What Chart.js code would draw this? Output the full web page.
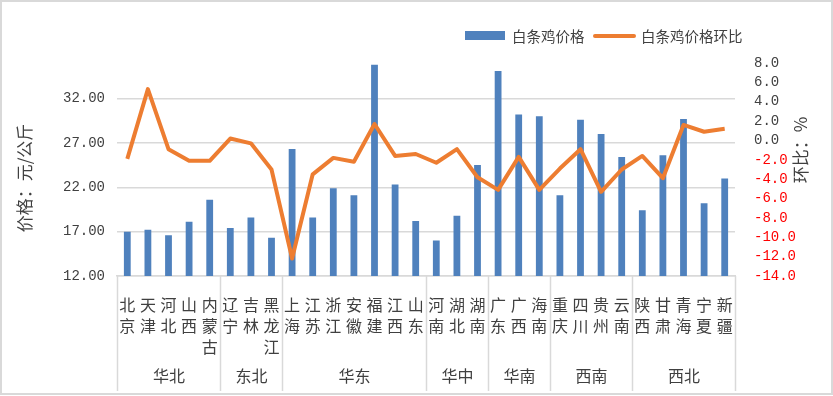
<!DOCTYPE html>
<html>
<head>
<meta charset="utf-8">
<script src="https://cdn.jsdelivr.net/npm/chart.js@4.4.1/dist/chart.umd.min.js"></script>
<style>
  html, body { margin: 0; padding: 0; background: #fff; }
  canvas { display: block; }
</style>
</head>
<body>
<canvas id="chart" width="833" height="396"></canvas>
<script>
// province labels, one character per line (stacked vertically)
const provinces = [
  ['北','京'], ['天','津'], ['河','北'], ['山','西'], ['内','蒙','古'],
  ['辽','宁'], ['吉','林'], ['黑','龙','江'],
  ['上','海'], ['江','苏'], ['浙','江'], ['安','徽'], ['福','建'], ['江','西'], ['山','东'],
  ['河','南'], ['湖','北'], ['湖','南'],
  ['广','东'], ['广','西'], ['海','南'],
  ['重','庆'], ['四','川'], ['贵','州'], ['云','南'],
  ['陕','西'], ['甘','肃'], ['青','海'], ['宁','夏'], ['新','疆']
];
const regions = ['华北', '东北', '华东', '华中', '华南', '西南', '西北'];
const regionSizes = [5, 3, 7, 3, 3, 4, 5];

// 白条鸡价格 (元/公斤)
const prices = [
  17.0, 17.2, 16.6, 18.1, 20.6,
  17.4, 18.6, 16.3,
  26.3, 18.6, 21.9, 21.1, 35.8, 22.3, 18.2,
  16.0, 18.8, 24.5,
  35.1, 30.2, 30.0,
  21.1, 29.6, 28.0, 25.4,
  19.4, 25.6, 29.7, 20.2, 23.0
];
// 白条鸡价格环比 (%)
const changes = [
  -1.9, 5.3, -0.9, -2.1, -2.1,
  0.2, -0.3, -3.0,
  -12.2, -3.5, -1.8, -2.2, 1.7, -1.6, -1.4,
  -2.3, -0.9, -3.8,
  -5.1, -1.7, -5.1,
  -2.9, -0.9, -5.3, -3.0,
  -1.6, -3.9, 1.6, 0.9, 1.2
];
const priceTicks = [12, 17, 22, 27, 32];

const BLUE = '#4F81BD';
const ORANGE = '#ED7D31';
const TEXT = '#404040';
const GRID = '#D9D9D9';
const CJK = '"Noto Sans CJK SC", sans-serif';
const NUM = '"Liberation Mono", monospace';

// legend, group row, axis titles and frame
const decor = {
  id: 'decor',
  afterDraw(chart) {
    const { ctx, chartArea: a, scales: { x } } = chart;
    ctx.save();

    // frame
    ctx.strokeStyle = GRID;
    ctx.lineWidth = 2;
    ctx.strokeRect(1, 1, 831, 393);

    // region separators + names
    ctx.lineWidth = 1.5;
    ctx.font = '16px ' + CJK;
    ctx.fillStyle = TEXT;
    ctx.textAlign = 'center';
    ctx.textBaseline = 'middle';
    let start = 0;
    const edge = i => Math.round(x.getPixelForValue(i - 0.5)) + 0.5;
    ctx.beginPath();
    ctx.moveTo(edge(0), a.bottom);
    ctx.lineTo(edge(0), 391);
    regionSizes.forEach((n, k) => {
      const end = start + n;
      ctx.moveTo(edge(end), a.bottom);
      ctx.lineTo(edge(end), 391);
      ctx.fillText(regions[k], (edge(start) + edge(end)) / 2, 376);
      start = end;
    });
    ctx.stroke();

    // axis titles
    ctx.font = '17px ' + CJK;
    ctx.save();
    ctx.translate(25, 178);
    ctx.rotate(-Math.PI / 2);
    ctx.fillText('价格：元/公斤', 0, 0);
    ctx.restore();
    ctx.save();
    ctx.translate(801, 150);
    ctx.rotate(-Math.PI / 2);
    ctx.fillText('环比：%', 0, 0);
    ctx.restore();

    // legend
    const ds = chart.data.datasets;
    ctx.font = '14.5px ' + CJK;
    ctx.textAlign = 'left';
    ctx.fillStyle = ds[0].backgroundColor;
    ctx.fillRect(465, 31, 40, 9);
    ctx.fillStyle = TEXT;
    ctx.fillText(ds[0].label, 512, 36);
    ctx.strokeStyle = ds[1].borderColor;
    ctx.lineWidth = 4;
    ctx.lineCap = 'round';
    ctx.beginPath();
    ctx.moveTo(595, 36);
    ctx.lineTo(634, 36);
    ctx.stroke();
    ctx.fillText(ds[1].label, 641, 36);

    ctx.restore();
  }
};

new Chart(document.getElementById('chart'), {
  data: {
    labels: provinces,
    datasets: [
      {
        type: 'bar',
        label: '白条鸡价格',
        data: prices,
        yAxisID: 'y',
        backgroundColor: BLUE,
        barPercentage: 0.33,
        categoryPercentage: 1,
        order: 1
      },
      {
        type: 'line',
        label: '白条鸡价格环比',
        data: changes,
        yAxisID: 'y1',
        borderColor: ORANGE,
        backgroundColor: ORANGE,
        borderWidth: 4,
        tension: 0,
        pointRadius: 0,
        borderJoinStyle: 'round',
        order: 0
      }
    ]
  },
  options: {
    responsive: false,
    animation: false,
    layout: { padding: { top: 63, left: 0, right: 0, bottom: 0 } },
    plugins: {
      legend: { display: false },
      tooltip: { enabled: false }
    },
    scales: {
      x: {
        grid: { display: false },
        border: { display: true, color: GRID, width: 1.5 },
        ticks: {
          color: TEXT,
          font: { family: CJK, size: 16, lineHeight: 1.3 },
          padding: 11,
          maxRotation: 0,
          autoSkip: false
        },
        afterFit: s => { s.height = 120; }
      },
      y: {
        position: 'left',
        min: 12,
        max: 36,
        afterBuildTicks: s => { s.ticks = priceTicks.map(v => ({ value: v })); },
        grid: { color: GRID, lineWidth: 1.5, drawTicks: false },
        border: { display: false },
        ticks: {
          color: TEXT,
          font: { family: NUM, size: 14 },
          padding: 12,
          callback: v => v.toFixed(2)
        },
        afterFit: s => { s.width = 117; }
      },
      y1: {
        position: 'right',
        min: -14,
        max: 8,
        grid: { display: false },
        border: { display: false },
        ticks: {
          stepSize: 2,
          autoSkip: false,
          font: { family: NUM, size: 14 },
          padding: 11,
          color: c => c.tick.value < 0 ? '#FF0000' : TEXT,
          callback: v => v.toFixed(1)
        },
        afterFit: s => { s.width = 98; }
      }
    }
  },
  plugins: [decor]
});
</script>
</body>
</html>
